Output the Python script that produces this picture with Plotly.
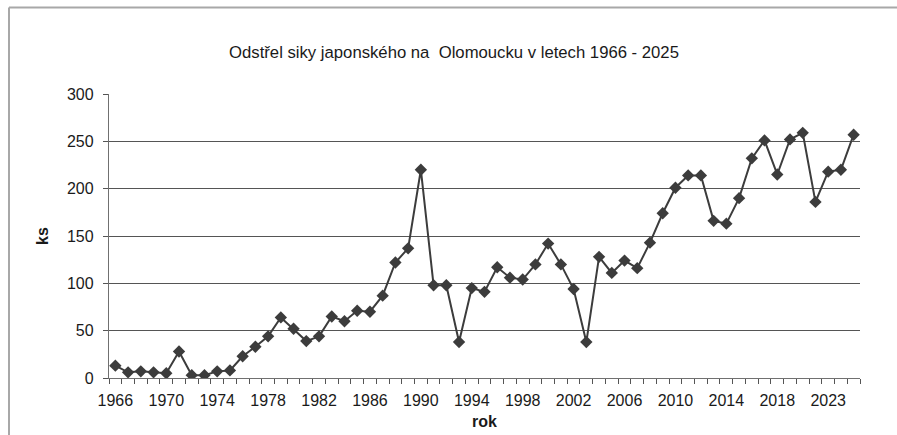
import plotly.graph_objects as go

years = list(range(1966, 2022)) + [2023, 2024, 2025]
values = [13, 6, 7, 6, 5, 28, 3, 3, 7, 8,
          23, 33, 44, 64, 52, 39, 44, 65, 60, 71,
          70, 87, 122, 137, 220, 98, 98, 38, 95, 91,
          117, 106, 104, 120, 142, 120, 94, 38, 128, 111,
          124, 116, 143, 174, 201, 214, 214, 166, 163, 190,
          232, 251, 215, 252, 259, 186, 218, 220, 257]
y_ticks = [0, 50, 100, 150, 200, 250, 300]
title_text = "Odstřel siky japonského na \u00a0Olomoucku v letech 1966 - 2025"

idx = list(range(len(years)))
label_idx = idx[::4]
label_text = [str(years[i]) for i in label_idx]

W, H = 897, 435
L, R, T, B = 109, 37, 94, 57
pw = W - L - R
ph = H - T - B

def px(x):
    return (x - L) / pw

def py(y):
    return (H - B - y) / ph

fig = go.Figure()
fig.add_trace(go.Scatter(
    x=idx, y=values, mode="lines+markers",
    line=dict(color="#3c3c3c", width=2),
    marker=dict(symbol="diamond", size=9.5, color="#3c3c3c"),
    hoverinfo="skip", showlegend=False,
))

font = "Liberation Sans, Arial, sans-serif"
fig.update_layout(
    width=W, height=H,
    margin=dict(l=L, r=R, t=T, b=B, autoexpand=False),
    paper_bgcolor="white", plot_bgcolor="white",
    font=dict(family=font, color="#1a1a1a", size=16),
    title=dict(text=title_text, x=454 / W, xref="container", xanchor="center",
               y=1 - 52 / H, yref="container", yanchor="middle",
               font=dict(size=16.7, color="#1a1a1a")),
    xaxis=dict(
        range=[-0.5, len(years) - 0.5],
        tickmode="array", tickvals=label_idx, ticktext=label_text,
        ticks="", showgrid=False, zeroline=False,
        showline=True, linecolor="#707070", linewidth=1.3,
        ticklabelstandoff=8, automargin=False,
        tickfont=dict(size=16),
        minor=dict(tickmode="linear", tick0=-0.5, dtick=1, ticks="outside",
                   ticklen=5, tickcolor="#555555", tickwidth=1, showgrid=False),
        title=dict(text="<b>rok</b>", font=dict(size=16), standoff=7),
    ),
    yaxis=dict(
        range=[0, 300], tickmode="array", tickvals=y_ticks,
        ticks="outside", ticklen=5, tickcolor="#555555", tickwidth=1,
        showgrid=True, gridcolor="#555555", gridwidth=1.2,
        zeroline=False, showline=True, linecolor="#707070", linewidth=1.3,
        ticklabelstandoff=6, automargin=False,
        tickfont=dict(size=16),
        title=dict(text="<b>ks</b>", font=dict(size=16), standoff=14),
    ),
    shapes=[
        dict(type="line", xref="paper", yref="paper",
             x0=px(9), x1=px(9), y0=py(7.5), y1=py(H + 10),
             line=dict(color="#a8a8a8", width=2)),
        dict(type="line", xref="paper", yref="paper",
             x0=px(9), x1=px(W + 10), y0=py(7.5), y1=py(7.5),
             line=dict(color="#a8a8a8", width=2)),
    ],
)

fig.write_html("out.html", config={"displayModeBar": False},
               post_script="document.body.style.margin='0';document.body.style.overflow='hidden';")
